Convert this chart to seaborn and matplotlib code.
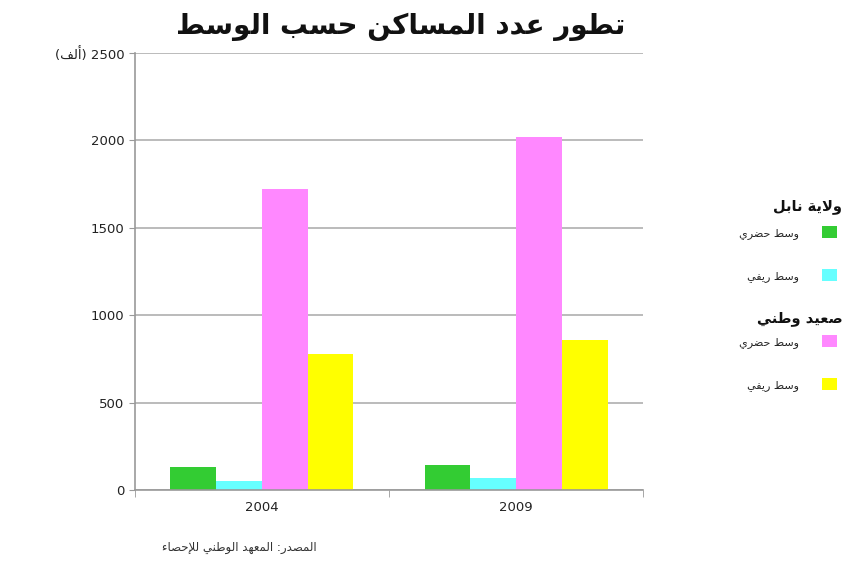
import pandas as pd
import seaborn as sns
import matplotlib.pyplot as plt
from matplotlib.ticker import FixedLocator

# DATA (thousands of dwellings)
years = ['2004', '2009']
nabeul_urban = [133, 143]
nabeul_rural = [51, 70]
national_urban = [1720, 2020]
national_rural = [780, 860]
y_ticks = [0, 500, 1000, 1500, 2000, 2500]

title_txt = 'تطور عدد المساكن حسب الوسط'
head_nabeul = 'ولاية نابل'
head_national = 'صعيد وطني'
lbl_urban = 'وسط حضري'
lbl_rural = 'وسط ريفي'
unit_txt = 'ألف'
source_txt = 'المصدر: المعهد الوطني للإحصاء'

colors = ['#33cc33', '#66ffff', '#ff88ff', '#ffff00']

# minimal arabic shaping (matplotlib has no bidi / joining)
FORMS = {
    'ء': ('\uFE80',),
    'أ': ('\uFE83', '\uFE84'), 'إ': ('\uFE87', '\uFE88'), 'ا': ('\uFE8D', '\uFE8E'),
    'ب': ('\uFE8F', '\uFE90', '\uFE91', '\uFE92'), 'ة': ('\uFE93', '\uFE94'),
    'ت': ('\uFE95', '\uFE96', '\uFE97', '\uFE98'), 'ح': ('\uFEA1', '\uFEA2', '\uFEA3', '\uFEA4'),
    'د': ('\uFEA9', '\uFEAA'), 'ر': ('\uFEAD', '\uFEAE'),
    'س': ('\uFEB1', '\uFEB2', '\uFEB3', '\uFEB4'), 'ص': ('\uFEB9', '\uFEBA', '\uFEBB', '\uFEBC'),
    'ض': ('\uFEBD', '\uFEBE', '\uFEBF', '\uFEC0'), 'ط': ('\uFEC1', '\uFEC2', '\uFEC3', '\uFEC4'),
    'ع': ('\uFEC9', '\uFECA', '\uFECB', '\uFECC'), 'ف': ('\uFED1', '\uFED2', '\uFED3', '\uFED4'),
    'ك': ('\uFED9', '\uFEDA', '\uFEDB', '\uFEDC'), 'ل': ('\uFEDD', '\uFEDE', '\uFEDF', '\uFEE0'),
    'م': ('\uFEE1', '\uFEE2', '\uFEE3', '\uFEE4'), 'ن': ('\uFEE5', '\uFEE6', '\uFEE7', '\uFEE8'),
    'ه': ('\uFEE9', '\uFEEA', '\uFEEB', '\uFEEC'), 'و': ('\uFEED', '\uFEEE'),
    'ي': ('\uFEF1', '\uFEF2', '\uFEF3', '\uFEF4'),
}
LAMALEF = {'ا': ('\uFEFB', '\uFEFC'), 'أ': ('\uFEF7', '\uFEF8'), 'إ': ('\uFEF9', '\uFEFA')}


def rtl(s):
    out = []
    i = 0
    prev_joins = False
    while i < len(s):
        c = s[i]
        nxt = s[i + 1] if i + 1 < len(s) else ''
        if c == 'ل' and nxt in LAMALEF:
            out.append(LAMALEF[nxt][1 if prev_joins else 0])
            prev_joins = False
            i += 2
            continue
        if c not in FORMS:
            out.append(c)
            prev_joins = False
            i += 1
            continue
        f = FORMS[c]
        next_joins = len(f) == 4 and nxt in FORMS and len(FORMS[nxt]) > 1
        if prev_joins and next_joins:
            g = f[3]
        elif prev_joins:
            g = f[1]
        elif next_joins:
            g = f[2]
        else:
            g = f[0]
        out.append(g)
        prev_joins = next_joins
        i += 1
    return ''.join(out)[::-1]


series = [head_nabeul + ' ' + lbl_urban, head_nabeul + ' ' + lbl_rural,
          head_national + ' ' + lbl_urban, head_national + ' ' + lbl_rural]
values = [nabeul_urban, nabeul_rural, national_urban, national_rural]
df = pd.DataFrame({
    'year': years * 4,
    'series': [s for s in series for _ in years],
    'value': [v for vals in values for v in vals],
})

sns.set_style('white')
plt.rcParams['font.family'] = ['DejaVu Sans']

fig = plt.figure(figsize=(8.43, 5.75), dpi=100)
ax = fig.add_axes([0.160, 0.148, 0.603, 0.760])

sns.barplot(data=df, x='year', y='value', hue='series', hue_order=series,
            palette=colors, width=0.72, saturation=1, linewidth=0, ax=ax, legend=False)

ax.set_ylim(0, 2500)
ax.set_xlim(-0.5, 1.5)
ax.set_yticks(y_ticks)
ax.set_yticklabels([str(t) for t in y_ticks[:-1]] + ['(' + rtl(unit_txt) + ') 2500'],
                   fontsize=9.5, color='#222222')
ax.tick_params(axis='y', length=4, color='#999999', direction='out', left=True)
ax.tick_params(axis='x', which='major', length=0, labelsize=9.5, labelcolor='#222222', pad=8)
ax.xaxis.set_minor_locator(FixedLocator([-0.5, 0.5, 1.5]))
ax.tick_params(axis='x', which='minor', length=5, color='#999999', bottom=True)
ax.set_xlabel('')
ax.set_ylabel('')
ax.yaxis.grid(True, color='#b5b5b5', lw=1.3)
ax.set_axisbelow(True)
for side in ['top', 'right']:
    ax.spines[side].set_visible(False)
for side in ['left', 'bottom']:
    ax.spines[side].set_color('#999999')
    ax.spines[side].set_linewidth(1.2)

fig.text(0.475, 0.953, rtl(title_txt), ha='center', va='center',
         fontsize=20, fontweight='bold', color='#111111')
fig.text(0.376, 0.047, rtl(source_txt), ha='right', va='center', fontsize=8.5, color='#333333')

# legend headers, flush with the right edge
fig.text(0.999, 1 - 207 / 575, rtl(head_nabeul), ha='right', va='center',
         fontsize=10.5, fontweight='bold', color='#111111')
fig.text(0.999, 1 - 318 / 575, rtl(head_national), ha='right', va='center',
         fontsize=10.5, fontweight='bold', color='#111111')

bars = ax.containers
leg_kw = dict(markerfirst=False, frameon=False, loc='upper right', fontsize=8,
              handlelength=1.4, handleheight=1.3, handletextpad=2.0, labelspacing=2.75)
leg1 = fig.legend(handles=[bars[0], bars[1]], labels=[rtl(lbl_urban), rtl(lbl_rural)],
                  bbox_to_anchor=(1.005, 1 - 216 / 575), **leg_kw)
leg2 = fig.legend(handles=[bars[2], bars[3]], labels=[rtl(lbl_urban), rtl(lbl_rural)],
                  bbox_to_anchor=(1.005, 1 - 325 / 575), **leg_kw)

fig.savefig('out.png', dpi=100)
